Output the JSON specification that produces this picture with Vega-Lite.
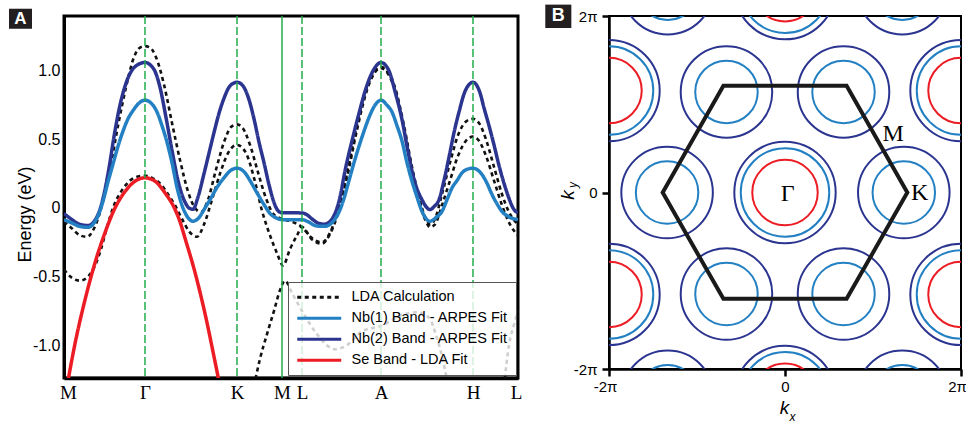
{
"$schema": "https://vega.github.io/schema/vega-lite/v6.json",
"background": "white",
"padding": {"left": 7, "top": 3, "right": 0, "bottom": 0},
"bounds": "flush",
"spacing": 91,
"config": {"font": "Liberation Sans", "axis": {"grid": false, "labelColor": "black", "domainColor": "black", "tickColor": "black", "titleColor": "black"}},
"resolve": {"scale": {"x": "independent", "y": "independent", "color": "independent", "strokeDash": "independent", "size": "independent"}, "legend": {"color": "independent", "strokeDash": "independent"}},
"datasets": {
"lda": [
{"s":"LDA","b":1,"x":0,"e":-0.10},{"s":"LDA","b":1,"x":8,"e":-0.15},{"s":"LDA","b":1,"x":16,"e":-0.20},{"s":"LDA","b":1,"x":23,"e":-0.21},{"s":"LDA","b":1,"x":30,"e":-0.15},{"s":"LDA","b":1,"x":38,"e":0.02},{"s":"LDA","b":1,"x":46,"e":0.28},{"s":"LDA","b":1,"x":54,"e":0.60},{"s":"LDA","b":1,"x":62,"e":0.88},{"s":"LDA","b":1,"x":70,"e":1.10},{"s":"LDA","b":1,"x":76,"e":1.17},{"s":"LDA","b":1,"x":81,"e":1.18},{"s":"LDA","b":1,"x":86,"e":1.17},{"s":"LDA","b":1,"x":92,"e":1.10},{"s":"LDA","b":1,"x":100,"e":0.90},{"s":"LDA","b":1,"x":108,"e":0.62},{"s":"LDA","b":1,"x":116,"e":0.35},{"s":"LDA","b":1,"x":124,"e":0.12},{"s":"LDA","b":1,"x":131,"e":0.0},{"s":"LDA","b":1,"x":137,"e":-0.03},{"s":"LDA","b":1,"x":144,"e":0.06},{"s":"LDA","b":1,"x":152,"e":0.28},{"s":"LDA","b":1,"x":160,"e":0.48},{"s":"LDA","b":1,"x":167,"e":0.59},{"s":"LDA","b":1,"x":173,"e":0.61},{"s":"LDA","b":1,"x":179,"e":0.58},{"s":"LDA","b":1,"x":186,"e":0.46},{"s":"LDA","b":1,"x":194,"e":0.26},{"s":"LDA","b":1,"x":202,"e":0.07},{"s":"LDA","b":1,"x":209,"e":-0.04},{"s":"LDA","b":1,"x":218,"e":-0.08},{"s":"LDA","b":1,"x":228,"e":-0.10},{"s":"LDA","b":1,"x":238,"e":-0.14},{"s":"LDA","b":1,"x":248,"e":-0.22},{"s":"LDA","b":1,"x":258,"e":-0.25},{"s":"LDA","b":1,"x":266,"e":-0.18},{"s":"LDA","b":1,"x":274,"e":-0.02},{"s":"LDA","b":1,"x":283,"e":0.25},{"s":"LDA","b":1,"x":293,"e":0.60},{"s":"LDA","b":1,"x":303,"e":0.88},{"s":"LDA","b":1,"x":311,"e":1.0},{"s":"LDA","b":1,"x":317,"e":1.03},{"s":"LDA","b":1,"x":323,"e":1.0},{"s":"LDA","b":1,"x":331,"e":0.88},{"s":"LDA","b":1,"x":340,"e":0.60},{"s":"LDA","b":1,"x":348,"e":0.30},{"s":"LDA","b":1,"x":356,"e":0.05},{"s":"LDA","b":1,"x":362,"e":-0.08},{"s":"LDA","b":1,"x":366,"e":-0.12},{"s":"LDA","b":1,"x":371,"e":-0.08},{"s":"LDA","b":1,"x":378,"e":0.10},{"s":"LDA","b":1,"x":386,"e":0.33},{"s":"LDA","b":1,"x":394,"e":0.53},{"s":"LDA","b":1,"x":402,"e":0.63},{"s":"LDA","b":1,"x":409,"e":0.65},{"s":"LDA","b":1,"x":415,"e":0.62},{"s":"LDA","b":1,"x":422,"e":0.50},{"s":"LDA","b":1,"x":430,"e":0.30},{"s":"LDA","b":1,"x":438,"e":0.10},{"s":"LDA","b":1,"x":445,"e":-0.03},{"s":"LDA","b":1,"x":454,"e":-0.12},
{"s":"LDA","b":2,"x":0,"e":-0.45},{"s":"LDA","b":2,"x":8,"e":-0.51},{"s":"LDA","b":2,"x":16,"e":-0.53},{"s":"LDA","b":2,"x":24,"e":-0.50},{"s":"LDA","b":2,"x":31,"e":-0.42},{"s":"LDA","b":2,"x":37,"e":-0.30},{"s":"LDA","b":2,"x":43,"e":-0.14},{"s":"LDA","b":2,"x":50,"e":0.02},{"s":"LDA","b":2,"x":58,"e":0.13},{"s":"LDA","b":2,"x":66,"e":0.20},{"s":"LDA","b":2,"x":74,"e":0.23},{"s":"LDA","b":2,"x":81,"e":0.235},{"s":"LDA","b":2,"x":88,"e":0.22},{"s":"LDA","b":2,"x":96,"e":0.18},{"s":"LDA","b":2,"x":104,"e":0.10},{"s":"LDA","b":2,"x":111,"e":0.02},{"s":"LDA","b":2,"x":118,"e":-0.08},{"s":"LDA","b":2,"x":125,"e":-0.17},{"s":"LDA","b":2,"x":133,"e":-0.21},{"s":"LDA","b":2,"x":140,"e":-0.12},{"s":"LDA","b":2,"x":148,"e":0.06},{"s":"LDA","b":2,"x":156,"e":0.25},{"s":"LDA","b":2,"x":164,"e":0.40},{"s":"LDA","b":2,"x":173,"e":0.46},{"s":"LDA","b":2,"x":182,"e":0.40},{"s":"LDA","b":2,"x":190,"e":0.22},{"s":"LDA","b":2,"x":198,"e":-0.02},{"s":"LDA","b":2,"x":206,"e":-0.20},{"s":"LDA","b":2,"x":213,"e":-0.33},{"s":"LDA","b":2,"x":219,"e":-0.42},{"s":"LDA","b":2,"x":226,"e":-0.30},{"s":"LDA","b":2,"x":233,"e":-0.20},{"s":"LDA","b":2,"x":238,"e":-0.14},{"s":"LDA","b":2,"x":248,"e":-0.23},{"s":"LDA","b":2,"x":258,"e":-0.26},{"s":"LDA","b":2,"x":266,"e":-0.19},{"s":"LDA","b":2,"x":274,"e":-0.04},{"s":"LDA","b":2,"x":283,"e":0.22},{"s":"LDA","b":2,"x":293,"e":0.57},{"s":"LDA","b":2,"x":303,"e":0.86},{"s":"LDA","b":2,"x":311,"e":0.99},{"s":"LDA","b":2,"x":317,"e":1.02},{"s":"LDA","b":2,"x":323,"e":0.99},{"s":"LDA","b":2,"x":331,"e":0.86},{"s":"LDA","b":2,"x":340,"e":0.58},{"s":"LDA","b":2,"x":348,"e":0.28},{"s":"LDA","b":2,"x":356,"e":0.03},{"s":"LDA","b":2,"x":362,"e":-0.10},{"s":"LDA","b":2,"x":366,"e":-0.14},{"s":"LDA","b":2,"x":371,"e":-0.12},{"s":"LDA","b":2,"x":378,"e":0.02},{"s":"LDA","b":2,"x":386,"e":0.20},{"s":"LDA","b":2,"x":394,"e":0.38},{"s":"LDA","b":2,"x":402,"e":0.49},{"s":"LDA","b":2,"x":409,"e":0.52},{"s":"LDA","b":2,"x":415,"e":0.49},{"s":"LDA","b":2,"x":422,"e":0.38},{"s":"LDA","b":2,"x":430,"e":0.20},{"s":"LDA","b":2,"x":438,"e":0.02},{"s":"LDA","b":2,"x":446,"e":-0.12},{"s":"LDA","b":2,"x":454,"e":-0.20},
{"s":"LDA","b":3,"x":190,"e":-1.30},{"s":"LDA","b":3,"x":196,"e":-1.10},{"s":"LDA","b":3,"x":203,"e":-0.92},{"s":"LDA","b":3,"x":210,"e":-0.75},{"s":"LDA","b":3,"x":216,"e":-0.60},{"s":"LDA","b":3,"x":221,"e":-0.53},{"s":"LDA","b":3,"x":228,"e":-0.62},{"s":"LDA","b":3,"x":238,"e":-0.75},{"s":"LDA","b":3,"x":253,"e":-0.92},{"s":"LDA","b":3,"x":271,"e":-1.03},{"s":"LDA","b":3,"x":283,"e":-1.0},{"s":"LDA","b":3,"x":298,"e":-0.90},{"s":"LDA","b":3,"x":317,"e":-0.86},{"s":"LDA","b":3,"x":338,"e":-0.78},{"s":"LDA","b":3,"x":353,"e":-0.76},{"s":"LDA","b":3,"x":365,"e":-0.80},{"s":"LDA","b":3,"x":373,"e":-0.95},{"s":"LDA","b":3,"x":381,"e":-1.18},{"s":"LDA","b":3,"x":384,"e":-1.30},
{"s":"LDA","b":4,"x":440,"e":-1.30},{"s":"LDA","b":4,"x":445,"e":-1.0},{"s":"LDA","b":4,"x":450,"e":-0.85},{"s":"LDA","b":4,"x":454,"e":-0.75}
],
"arpes": [
{"s":"Nb2","x":0,"e":-0.04},{"s":"Nb2","x":8,"e":-0.085},{"s":"Nb2","x":16,"e":-0.12},{"s":"Nb2","x":24,"e":-0.128},{"s":"Nb2","x":30,"e":-0.10},{"s":"Nb2","x":35,"e":-0.03},{"s":"Nb2","x":40,"e":0.10},{"s":"Nb2","x":45,"e":0.29},{"s":"Nb2","x":50,"e":0.52},{"s":"Nb2","x":56,"e":0.75},{"s":"Nb2","x":63,"e":0.93},{"s":"Nb2","x":71,"e":1.03},{"s":"Nb2","x":81,"e":1.061},{"s":"Nb2","x":90,"e":1.01},{"s":"Nb2","x":96,"e":0.88},{"s":"Nb2","x":102,"e":0.66},{"s":"Nb2","x":108,"e":0.42},{"s":"Nb2","x":114,"e":0.20},{"s":"Nb2","x":120,"e":0.06},{"s":"Nb2","x":125,"e":0.0},{"s":"Nb2","x":129,"e":-0.01},{"s":"Nb2","x":134,"e":0.08},{"s":"Nb2","x":140,"e":0.25},{"s":"Nb2","x":145,"e":0.40},{"s":"Nb2","x":150,"e":0.55},{"s":"Nb2","x":155,"e":0.69},{"s":"Nb2","x":160,"e":0.80},{"s":"Nb2","x":166,"e":0.89},{"s":"Nb2","x":173,"e":0.917},{"s":"Nb2","x":179,"e":0.89},{"s":"Nb2","x":185,"e":0.79},{"s":"Nb2","x":190,"e":0.65},{"s":"Nb2","x":195,"e":0.48},{"s":"Nb2","x":200,"e":0.33},{"s":"Nb2","x":205,"e":0.17},{"s":"Nb2","x":210,"e":0.04},{"s":"Nb2","x":214,"e":-0.02},{"s":"Nb2","x":218,"e":-0.035},{"s":"Nb2","x":238,"e":-0.036},{"s":"Nb2","x":243,"e":-0.05},{"s":"Nb2","x":248,"e":-0.08},{"s":"Nb2","x":254,"e":-0.11},{"s":"Nb2","x":260,"e":-0.118},{"s":"Nb2","x":265,"e":-0.105},{"s":"Nb2","x":269,"e":-0.07},{"s":"Nb2","x":273,"e":0.0},{"s":"Nb2","x":276,"e":0.08},{"s":"Nb2","x":281,"e":0.27},{"s":"Nb2","x":288,"e":0.49},{"s":"Nb2","x":295,"e":0.69},{"s":"Nb2","x":301,"e":0.85},{"s":"Nb2","x":309,"e":1.0},{"s":"Nb2","x":317,"e":1.061},{"s":"Nb2","x":325,"e":1.0},{"s":"Nb2","x":331,"e":0.85},{"s":"Nb2","x":338,"e":0.645},{"s":"Nb2","x":343,"e":0.45},{"s":"Nb2","x":348,"e":0.27},{"s":"Nb2","x":353,"e":0.14},{"s":"Nb2","x":358,"e":0.06},{"s":"Nb2","x":362,"e":0.01},{"s":"Nb2","x":366,"e":-0.012},{"s":"Nb2","x":370,"e":0.01},{"s":"Nb2","x":375,"e":0.06},{"s":"Nb2","x":380,"e":0.20},{"s":"Nb2","x":385,"e":0.37},{"s":"Nb2","x":390,"e":0.55},{"s":"Nb2","x":395,"e":0.70},{"s":"Nb2","x":401,"e":0.85},{"s":"Nb2","x":409,"e":0.917},{"s":"Nb2","x":416,"e":0.84},{"s":"Nb2","x":420,"e":0.73},{"s":"Nb2","x":425,"e":0.60},{"s":"Nb2","x":430,"e":0.46},{"s":"Nb2","x":435,"e":0.31},{"s":"Nb2","x":440,"e":0.18},{"s":"Nb2","x":445,"e":0.07},{"s":"Nb2","x":449,"e":0.0},{"s":"Nb2","x":454,"e":-0.036},
{"s":"Nb1","x":0,"e":-0.085},{"s":"Nb1","x":8,"e":-0.11},{"s":"Nb1","x":16,"e":-0.135},{"s":"Nb1","x":24,"e":-0.141},{"s":"Nb1","x":30,"e":-0.11},{"s":"Nb1","x":35,"e":-0.04},{"s":"Nb1","x":39,"e":0.05},{"s":"Nb1","x":44,"e":0.19},{"s":"Nb1","x":49,"e":0.32},{"s":"Nb1","x":54,"e":0.45},{"s":"Nb1","x":59,"e":0.56},{"s":"Nb1","x":64,"e":0.65},{"s":"Nb1","x":69,"e":0.71},{"s":"Nb1","x":75,"e":0.765},{"s":"Nb1","x":81,"e":0.786},{"s":"Nb1","x":87,"e":0.765},{"s":"Nb1","x":93,"e":0.70},{"s":"Nb1","x":98,"e":0.60},{"s":"Nb1","x":103,"e":0.48},{"s":"Nb1","x":108,"e":0.33},{"s":"Nb1","x":113,"e":0.15},{"s":"Nb1","x":118,"e":0.02},{"s":"Nb1","x":123,"e":-0.06},{"s":"Nb1","x":129,"e":-0.097},{"s":"Nb1","x":135,"e":-0.07},{"s":"Nb1","x":141,"e":0.0},{"s":"Nb1","x":146,"e":0.06},{"s":"Nb1","x":153,"e":0.15},{"s":"Nb1","x":160,"e":0.22},{"s":"Nb1","x":166,"e":0.27},{"s":"Nb1","x":173,"e":0.29},{"s":"Nb1","x":180,"e":0.265},{"s":"Nb1","x":186,"e":0.20},{"s":"Nb1","x":193,"e":0.11},{"s":"Nb1","x":200,"e":0.025},{"s":"Nb1","x":206,"e":-0.04},{"s":"Nb1","x":213,"e":-0.075},{"s":"Nb1","x":218,"e":-0.085},{"s":"Nb1","x":238,"e":-0.085},{"s":"Nb1","x":244,"e":-0.10},{"s":"Nb1","x":250,"e":-0.125},{"s":"Nb1","x":256,"e":-0.134},{"s":"Nb1","x":261,"e":-0.134},{"s":"Nb1","x":266,"e":-0.12},{"s":"Nb1","x":271,"e":-0.08},{"s":"Nb1","x":275,"e":-0.03},{"s":"Nb1","x":280,"e":0.07},{"s":"Nb1","x":285,"e":0.20},{"s":"Nb1","x":290,"e":0.33},{"s":"Nb1","x":295,"e":0.45},{"s":"Nb1","x":300,"e":0.56},{"s":"Nb1","x":305,"e":0.66},{"s":"Nb1","x":311,"e":0.75},{"s":"Nb1","x":317,"e":0.786},{"s":"Nb1","x":323,"e":0.75},{"s":"Nb1","x":328,"e":0.70},{"s":"Nb1","x":333,"e":0.60},{"s":"Nb1","x":338,"e":0.488},{"s":"Nb1","x":343,"e":0.33},{"s":"Nb1","x":348,"e":0.195},{"s":"Nb1","x":353,"e":0.08},{"s":"Nb1","x":358,"e":-0.025},{"s":"Nb1","x":366,"e":-0.097},{"s":"Nb1","x":372,"e":-0.07},{"s":"Nb1","x":378,"e":-0.025},{"s":"Nb1","x":383,"e":0.06},{"s":"Nb1","x":388,"e":0.146},{"s":"Nb1","x":393,"e":0.20},{"s":"Nb1","x":398,"e":0.256},{"s":"Nb1","x":403,"e":0.282},{"s":"Nb1","x":409,"e":0.29},{"s":"Nb1","x":414,"e":0.275},{"s":"Nb1","x":418,"e":0.244},{"s":"Nb1","x":423,"e":0.18},{"s":"Nb1","x":428,"e":0.098},{"s":"Nb1","x":433,"e":0.03},{"s":"Nb1","x":438,"e":-0.025},{"s":"Nb1","x":445,"e":-0.065},{"s":"Nb1","x":454,"e":-0.085}
],
"se": [
{"s":"Se","x":3,"e":-1.30},{"s":"Se","x":11,"e":-0.99},{"s":"Se","x":21,"e":-0.67},{"s":"Se","x":31,"e":-0.40},{"s":"Se","x":41,"e":-0.18},{"s":"Se","x":51,"e":0.0},{"s":"Se","x":61,"e":0.12},{"s":"Se","x":71,"e":0.195},{"s":"Se","x":81,"e":0.22},{"s":"Se","x":91,"e":0.195},{"s":"Se","x":101,"e":0.11},{"s":"Se","x":111,"e":-0.01},{"s":"Se","x":116,"e":-0.10},{"s":"Se","x":121,"e":-0.22},{"s":"Se","x":131,"e":-0.47},{"s":"Se","x":141,"e":-0.77},{"s":"Se","x":151,"e":-1.12},{"s":"Se","x":156,"e":-1.30}
],
"pts": [{"p":"Γ","x":81},{"p":"K","x":173},{"p":"M","x":218},{"p":"L","x":238},{"p":"A","x":317},{"p":"H","x":409}],
"pockets": [
{"t":"Se","cx":0,"cy":0,"r":0.372},{"t":"Nb1","cx":0,"cy":0,"r":0.503},{"t":"Nb2","cx":0,"cy":0,"r":0.576},
{"t":"Se","cx":0,"cy":2.31,"r":0.372},{"t":"Nb1","cx":0,"cy":2.31,"r":0.503},{"t":"Nb2","cx":0,"cy":2.31,"r":0.576},
{"t":"Se","cx":0,"cy":-2.31,"r":0.372},{"t":"Nb1","cx":0,"cy":-2.31,"r":0.503},{"t":"Nb2","cx":0,"cy":-2.31,"r":0.576},
{"t":"Se","cx":2,"cy":1.155,"r":0.372},{"t":"Nb1","cx":2,"cy":1.155,"r":0.503},{"t":"Nb2","cx":2,"cy":1.155,"r":0.576},
{"t":"Se","cx":2,"cy":-1.155,"r":0.372},{"t":"Nb1","cx":2,"cy":-1.155,"r":0.503},{"t":"Nb2","cx":2,"cy":-1.155,"r":0.576},
{"t":"Se","cx":-2,"cy":1.155,"r":0.372},{"t":"Nb1","cx":-2,"cy":1.155,"r":0.503},{"t":"Nb2","cx":-2,"cy":1.155,"r":0.576},
{"t":"Se","cx":-2,"cy":-1.155,"r":0.372},{"t":"Nb1","cx":-2,"cy":-1.155,"r":0.503},{"t":"Nb2","cx":-2,"cy":-1.155,"r":0.576},
{"t":"Nb1","cx":1.35,"cy":0,"r":0.355},{"t":"Nb2","cx":1.35,"cy":0,"r":0.52},
{"t":"Nb1","cx":-1.34,"cy":0,"r":0.355},{"t":"Nb2","cx":-1.34,"cy":0,"r":0.52},
{"t":"Nb1","cx":0.665,"cy":1.14,"r":0.355},{"t":"Nb2","cx":0.665,"cy":1.14,"r":0.52},
{"t":"Nb1","cx":-0.665,"cy":1.14,"r":0.355},{"t":"Nb2","cx":-0.665,"cy":1.14,"r":0.52},
{"t":"Nb1","cx":0.665,"cy":-1.15,"r":0.355},{"t":"Nb2","cx":0.665,"cy":-1.15,"r":0.52},
{"t":"Nb1","cx":-0.665,"cy":-1.15,"r":0.355},{"t":"Nb2","cx":-0.665,"cy":-1.15,"r":0.52},
{"t":"Nb1","cx":1.333,"cy":2.31,"r":0.355},{"t":"Nb2","cx":1.333,"cy":2.31,"r":0.52},
{"t":"Nb1","cx":-1.333,"cy":2.31,"r":0.355},{"t":"Nb2","cx":-1.333,"cy":2.31,"r":0.52},
{"t":"Nb1","cx":1.333,"cy":-2.31,"r":0.355},{"t":"Nb2","cx":1.333,"cy":-2.31,"r":0.52},
{"t":"Nb1","cx":-1.333,"cy":-2.31,"r":0.355},{"t":"Nb2","cx":-1.333,"cy":-2.31,"r":0.52}
],
"hex": [{"i":0,"kx":1.39,"ky":0},{"i":1,"kx":0.7,"ky":1.21},{"i":2,"kx":-0.7,"ky":1.21},{"i":3,"kx":-1.39,"ky":0},{"i":4,"kx":-0.7,"ky":-1.205},{"i":5,"kx":0.7,"ky":-1.205}],
"sym": [{"n":"Γ","kx":0.03,"ky":-0.02},{"n":"K","kx":1.53,"ky":0.0},{"n":"M","kx":1.23,"ky":0.66}]
},
"hconcat": [
{
"width": 454, "height": 362,
"view": {"stroke": "black", "strokeWidth": 3},
"layer": [
{"data": {"name": "lda"},
 "mark": {"type": "line", "strokeWidth": 2.6, "clip": true, "interpolate": "monotone"},
 "encoding": {
  "x": {"field": "x", "type": "quantitative", "scale": {"domain": [0, 454], "nice": false, "zero": false},
        "axis": {"values": [4, 81, 173, 218, 238, 317, 409, 452], "labelExpr": "datum.value < 40 ? 'M' : datum.value < 120 ? 'Γ' : datum.value < 200 ? 'K' : datum.value < 228 ? 'M' : datum.value < 280 ? 'L' : datum.value < 360 ? 'A' : datum.value < 430 ? 'H' : 'L'", "title": null, "ticks": false, "tickSize": 0, "domainWidth": 3.5, "labelFont": "Liberation Serif", "labelFontSize": 19, "labelPadding": 5, "labelFlush": false, "labelOverlap": false, "grid": false}},
  "y": {"field": "e", "type": "quantitative", "scale": {"domain": [-1.24, 1.40], "nice": false, "zero": false},
        "axis": {"values": [-1, -0.5, 0, 0.5, 1], "labelExpr": "datum.value == 0 ? '0' : (datum.value < 0 ? '-' : '') + format(abs(datum.value), '.1f')", "title": "Energy (eV)", "titleFontSize": 18, "titleFontWeight": "normal", "titleX": -39, "titleY": 198, "titleAngle": -90, "titleAlign": "center", "titleBaseline": "middle", "ticks": false, "tickSize": 0, "domainWidth": 3, "labelFontSize": 16, "labelPadding": 4, "grid": false}},
  "color": {"field": "s", "type": "nominal", "scale": {"domain": ["LDA", "Nb1", "Nb2", "Se"], "range": ["#111111", "#2380c3", "#2b3590", "#ec1c24"]},
        "legend": {"orient": "none", "legendX": 224, "legendY": 266, "title": null, "symbolType": "M-1.5,0L9.5,0", "symbolSize": 64, "symbolStrokeWidth": 3, "labelFontSize": 14.5, "labelColor": "black", "labelLimit": 300, "padding": 8, "rowPadding": 6, "labelOffset": 41, "fillColor": "rgba(255,255,255,0.8)", "strokeColor": "#555555", "labelExpr": "datum.label == 'LDA' ? 'LDA Calculation' : datum.label == 'Nb1' ? 'Nb(1) Band - ARPES Fit' : datum.label == 'Nb2' ? 'Nb(2) Band - ARPES Fit' : 'Se Band - LDA Fit'"}},
  "strokeDash": {"field": "s", "type": "nominal", "scale": {"domain": ["LDA", "Nb1", "Nb2", "Se"], "range": [[4, 3.5], [1, 0], [1, 0], [1, 0]]},
        "legend": {"orient": "none", "legendX": 224, "legendY": 266, "title": null, "symbolType": "M-1.5,0L9.5,0", "symbolSize": 64, "symbolStrokeWidth": 3, "labelFontSize": 14.5, "labelColor": "black", "labelLimit": 300, "padding": 8, "rowPadding": 6, "labelOffset": 41, "fillColor": "rgba(255,255,255,0.8)", "strokeColor": "#555555", "labelExpr": "datum.label == 'LDA' ? 'LDA Calculation' : datum.label == 'Nb1' ? 'Nb(1) Band - ARPES Fit' : datum.label == 'Nb2' ? 'Nb(2) Band - ARPES Fit' : 'Se Band - LDA Fit'"}},
  "detail": {"field": "b"}
 }},
{"data": {"name": "arpes"},
 "mark": {"type": "line", "strokeWidth": 3.5, "clip": true, "interpolate": "monotone"},
 "encoding": {
  "x": {"field": "x", "type": "quantitative"},
  "y": {"field": "e", "type": "quantitative"},
  "color": {"field": "s", "type": "nominal"},
  "strokeDash": {"field": "s", "type": "nominal"},
  "detail": {"field": "s"}
 }},
{"data": {"name": "se"},
 "mark": {"type": "line", "strokeWidth": 3.5, "clip": true, "interpolate": "monotone"},
 "encoding": {
  "x": {"field": "x", "type": "quantitative"},
  "y": {"field": "e", "type": "quantitative"},
  "color": {"field": "s", "type": "nominal"},
  "strokeDash": {"field": "s", "type": "nominal"}
 }},
{"data": {"name": "pts"}, "transform": [{"filter": "datum.p != 'M'"}],
 "mark": {"type": "rule", "color": "#22ad4b", "strokeWidth": 1.5, "strokeDash": [8, 3]},
 "encoding": {"x": {"field": "x", "type": "quantitative"}}},
{"data": {"name": "pts"}, "transform": [{"filter": "datum.p == 'M'"}],
 "mark": {"type": "rule", "color": "#22ad4b", "strokeWidth": 1.5},
 "encoding": {"x": {"field": "x", "type": "quantitative"}}},
{"data": {"values": [{}]},
 "mark": {"type": "rect", "color": "#231f20"},
 "encoding": {"x": {"datum": -55, "type": "quantitative"}, "x2": {"datum": -32}, "y": {"datum": 1.453, "type": "quantitative"}, "y2": {"datum": 1.307}}},
{"data": {"values": [{}]},
 "mark": {"type": "text", "text": "A", "color": "white", "fontWeight": "bold", "fontSize": 17, "baseline": "middle", "align": "center"},
 "encoding": {"x": {"datum": -43.5, "type": "quantitative"}, "y": {"datum": 1.38, "type": "quantitative"}}}
]
},
{
"width": 352, "height": 353,
"view": {"stroke": "black", "strokeWidth": 2},
"layer": [
{"data": {"name": "pockets"},
 "mark": {"type": "point", "shape": "circle", "filled": false, "strokeWidth": 2, "clip": true, "opacity": 1},
 "encoding": {
  "x": {"field": "cx", "type": "quantitative", "scale": {"domain": [-2, 2], "nice": false, "zero": false},
        "axis": {"values": [-2, 0, 2], "labelExpr": "datum.value == 0 ? '0' : (datum.value < 0 ? '-2π' : '2π')", "title": null, "ticks": true, "tickSize": 7, "tickWidth": 2.5, "domainWidth": 2.5, "labelFontSize": 15, "labelPadding": 3, "labelOffset": {"condition": {"test": "datum.value == 0", "value": 0}, "value": -4}, "labelFlush": false, "labelOverlap": false, "grid": false}},
  "y": {"field": "cy", "type": "quantitative", "scale": {"domain": [-2, 2], "nice": false, "zero": false},
        "axis": {"values": [-2, 0, 2], "labelExpr": "datum.value == 0 ? '0' : (datum.value < 0 ? '-2π' : '2π')", "title": null, "ticks": true, "tickSize": 7, "tickWidth": 2.5, "domainWidth": 2.5, "labelFontSize": 15, "labelPadding": 5, "labelFlush": false, "labelOverlap": false, "grid": false}},
  "size": {"field": "r", "type": "quantitative", "scale": {"type": "pow", "exponent": 2, "domain": [0, 1], "range": [0, 30976]}, "legend": null},
  "color": {"field": "t", "type": "nominal", "scale": {"domain": ["Se", "Nb1", "Nb2"], "range": ["#ec1c24", "#2380c3", "#2b3590"]}, "legend": null}
 }},
{"data": {"name": "hex"},
 "mark": {"type": "line", "interpolate": "linear-closed", "color": "#1a1a1a", "strokeWidth": 4, "strokeJoin": "miter"},
 "encoding": {"x": {"field": "kx", "type": "quantitative"}, "y": {"field": "ky", "type": "quantitative"}, "order": {"field": "i"}}},
{"data": {"name": "sym"},
 "mark": {"type": "text", "font": "Liberation Serif", "fontSize": 24, "color": "black", "baseline": "middle", "align": "center"},
 "encoding": {"x": {"field": "kx", "type": "quantitative"}, "y": {"field": "ky", "type": "quantitative"}, "text": {"field": "n"}}},
{"data": {"values": [{}]},
 "mark": {"type": "rect", "color": "#231f20"},
 "encoding": {"x": {"datum": -2.724, "type": "quantitative"}, "x2": {"datum": -2.428}, "y": {"datum": 2.129, "type": "quantitative"}, "y2": {"datum": 1.864}}},
{"data": {"values": [{}]},
 "mark": {"type": "text", "text": "B", "color": "white", "fontWeight": "bold", "fontSize": 18, "baseline": "middle", "align": "center"},
 "encoding": {"x": {"datum": -2.576, "type": "quantitative"}, "y": {"datum": 1.997, "type": "quantitative"}}},
{"data": {"values": [{}]},
 "mark": {"type": "text", "text": "k", "fontStyle": "italic", "fontSize": 19, "color": "black", "baseline": "alphabetic", "align": "center"},
 "encoding": {"x": {"datum": -0.005, "type": "quantitative"}, "y": {"datum": -2.51, "type": "quantitative"}}},
{"data": {"values": [{}]},
 "mark": {"type": "text", "text": "x", "fontStyle": "italic", "fontSize": 12, "color": "black", "baseline": "alphabetic", "align": "center"},
 "encoding": {"x": {"datum": 0.085, "type": "quantitative"}, "y": {"datum": -2.59, "type": "quantitative"}}},
{"data": {"values": [{}]},
 "mark": {"type": "text", "text": "k", "fontStyle": "italic", "fontSize": 19, "color": "black", "baseline": "middle", "align": "center", "angle": 270},
 "encoding": {"x": {"datum": -2.466, "type": "quantitative"}, "y": {"datum": -0.028, "type": "quantitative"}}},
{"data": {"values": [{}]},
 "mark": {"type": "text", "text": "y", "fontStyle": "italic", "fontSize": 12, "color": "black", "baseline": "middle", "align": "center", "angle": 270},
 "encoding": {"x": {"datum": -2.409, "type": "quantitative"}, "y": {"datum": 0.085, "type": "quantitative"}}}
]
}
]
}
